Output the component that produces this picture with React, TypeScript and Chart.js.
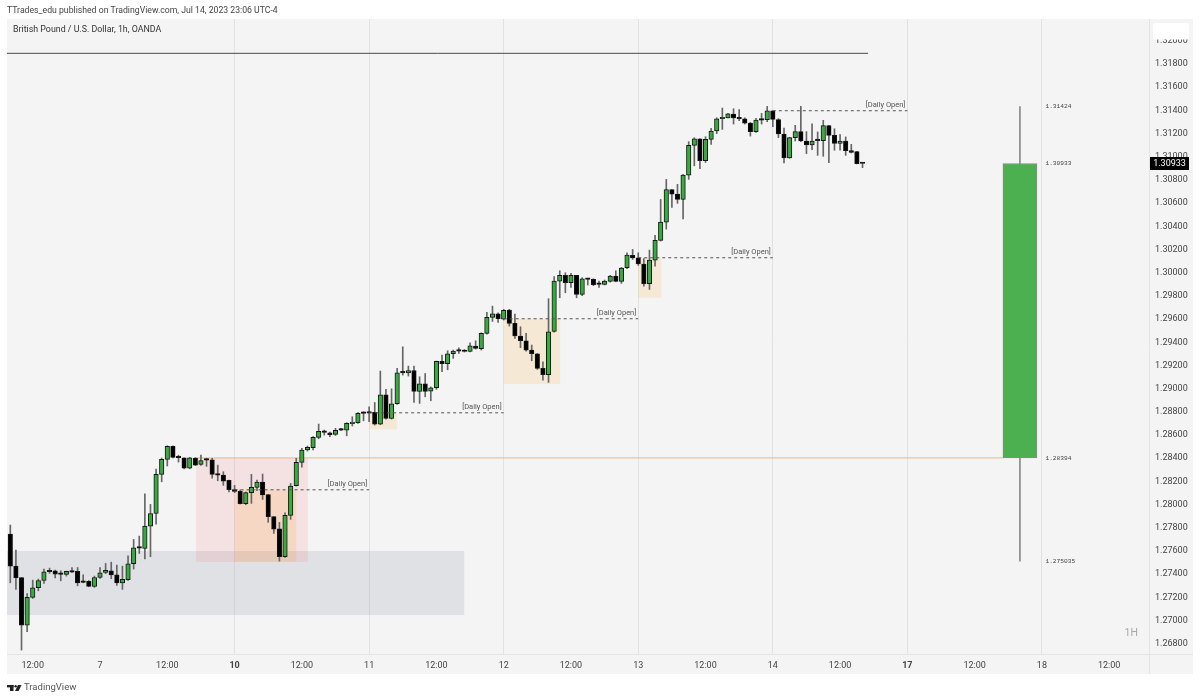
import React, { useEffect, useRef } from "react";
import { Chart, registerables } from "chart.js";

Chart.register(...registerables);

// GBPUSD 1h candles
const opens = [
  1.27737, 1.27461, 1.27363, 1.26952, 1.27191, 1.27274, 1.27337, 1.27421, 1.27421, 1.27395,
  1.27389, 1.27415, 1.27415, 1.27326, 1.27329, 1.27286, 1.27363, 1.27406, 1.27421, 1.27386,
  1.27317, 1.27343, 1.27481, 1.27622, 1.27613, 1.27806, 1.27915, 1.28252, 1.28381, 1.28493,
  1.28401, 1.28395, 1.28306, 1.2839, 1.28338, 1.28381, 1.28378, 1.28255, 1.28246, 1.282,
  1.2812, 1.28105, 1.27999, 1.28094, 1.2814, 1.28186, 1.28077, 1.27887, 1.27783, 1.27542,
  1.27898, 1.28154, 1.28355, 1.28462, 1.28482, 1.28571, 1.28623, 1.28611, 1.28597, 1.2864,
  1.28634, 1.28689, 1.28698, 1.28783, 1.28786, 1.28786, 1.28686, 1.28939, 1.28734, 1.28861,
  1.29134, 1.29128, 1.29148, 1.28967, 1.29033, 1.2897, 1.28999, 1.29226, 1.29206, 1.29292,
  1.29321, 1.29321, 1.29312, 1.29358, 1.29335, 1.29468, 1.29606, 1.29637, 1.29591, 1.29669,
  1.29554, 1.29445, 1.29404, 1.29324, 1.29292, 1.29166, 1.29111, 1.29485, 1.29919, 1.29968,
  1.29905, 1.29968, 1.29804, 1.29939, 1.29934, 1.29893, 1.2989, 1.29916, 1.29962, 1.29916,
  1.30034, 1.30141, 1.3012, 1.30066, 1.29896, 1.301, 1.3027, 1.30428, 1.30709, 1.30669,
  1.30623, 1.30833, 1.31089, 1.31146, 1.30957, 1.31141, 1.31213, 1.31319, 1.31327, 1.31359,
  1.31327, 1.31319, 1.31281, 1.31207, 1.31319, 1.3131, 1.31388, 1.31311, 1.31187, 1.3098,
  1.31156, 1.31208, 1.31127, 1.31093, 1.31136, 1.3113, 1.31259, 1.31176, 1.31107, 1.31127,
  1.31044, 1.31035, 1.30937,
];
const closes = [
  1.27461, 1.2736, 1.26952, 1.27191, 1.27274, 1.27337, 1.27412, 1.27412, 1.27392, 1.27389,
  1.27415, 1.27409, 1.27317, 1.2732, 1.27286, 1.27363, 1.27404, 1.27424, 1.27386, 1.27317,
  1.27346, 1.27481, 1.27619, 1.27616, 1.27806, 1.27915, 1.28252, 1.28381, 1.28493, 1.28398,
  1.28395, 1.28306, 1.28395, 1.28332, 1.2837, 1.28375, 1.28252, 1.28246, 1.28194, 1.2812,
  1.28105, 1.27999, 1.28094, 1.2814, 1.28186, 1.28074, 1.27887, 1.2778, 1.27542, 1.27898,
  1.28151, 1.28355, 1.28462, 1.28485, 1.28571, 1.28623, 1.28614, 1.28594, 1.28631, 1.28634,
  1.28692, 1.28698, 1.28778, 1.28778, 1.2878, 1.28686, 1.28939, 1.28734, 1.28861, 1.29128,
  1.29128, 1.29148, 1.28967, 1.29033, 1.28967, 1.28999, 1.29226, 1.29206, 1.29292, 1.29315,
  1.29315, 1.29312, 1.29361, 1.29338, 1.29468, 1.29606, 1.29637, 1.29594, 1.29666, 1.29554,
  1.29445, 1.29404, 1.29324, 1.29292, 1.29166, 1.29111, 1.29482, 1.29919, 1.29968, 1.29905,
  1.29968, 1.29804, 1.29939, 1.29934, 1.29888, 1.2989, 1.29919, 1.29962, 1.29916, 1.30031,
  1.30143, 1.30118, 1.30066, 1.29896, 1.301, 1.3027, 1.30428, 1.30709, 1.30669, 1.30623,
  1.30833, 1.31089, 1.31146, 1.30957, 1.31141, 1.31213, 1.31319, 1.3133, 1.31362, 1.31327,
  1.31319, 1.31281, 1.31207, 1.31307, 1.31307, 1.31388, 1.31313, 1.31187, 1.3098, 1.31156,
  1.31208, 1.31127, 1.31093, 1.31127, 1.3113, 1.31259, 1.31176, 1.31107, 1.31127, 1.31044,
  1.31029, 1.30932, 1.30933,
];
const highs = [
  1.27815, 1.27599, 1.27363, 1.27225, 1.2734, 1.27349, 1.27435, 1.27444, 1.27427, 1.27421,
  1.27418, 1.27449, 1.27449, 1.27386, 1.27337, 1.27375, 1.27449, 1.27484, 1.27495, 1.2747,
  1.27461, 1.2755, 1.27691, 1.2772, 1.28085, 1.27993, 1.28298, 1.28393, 1.28499, 1.28499,
  1.28418, 1.28395, 1.28398, 1.28398, 1.28419, 1.2839, 1.2839, 1.28332, 1.28275, 1.28203,
  1.28157, 1.28117, 1.281, 1.28252, 1.28203, 1.28255, 1.28079, 1.27887, 1.27838, 1.27921,
  1.28174, 1.2839, 1.28476, 1.28496, 1.28577, 1.28686, 1.28634, 1.28617, 1.28649, 1.28649,
  1.28698, 1.28749, 1.28784, 1.28792, 1.28835, 1.28872, 1.29143, 1.28985, 1.2899, 1.29166,
  1.29352, 1.29186, 1.29186, 1.29094, 1.29122, 1.29007, 1.29229, 1.29281, 1.29318, 1.29324,
  1.29344, 1.29329, 1.29387, 1.29404, 1.29473, 1.29649, 1.29703, 1.29646, 1.29675, 1.29675,
  1.29634, 1.29525, 1.29468, 1.29367, 1.29295, 1.29223, 1.29767, 1.29957, 1.30008, 1.29991,
  1.29985, 1.29968, 1.29948, 1.29942, 1.29939, 1.29919, 1.29928, 1.29968, 1.30008, 1.30037,
  1.30163, 1.30192, 1.30163, 1.30112, 1.30186, 1.30313, 1.30623, 1.30796, 1.30709, 1.30753,
  1.30839, 1.31121, 1.31155, 1.31146, 1.31164, 1.31236, 1.31327, 1.31411, 1.31365, 1.31405,
  1.31397, 1.31327, 1.31287, 1.31322, 1.31365, 1.31425, 1.31388, 1.3132, 1.31239, 1.31159,
  1.31262, 1.31426, 1.31208, 1.31276, 1.31205, 1.31305, 1.31262, 1.31233, 1.31182, 1.31162,
  1.31098, 1.31038, 1.3094,
];
const lows = [
  1.27317, 1.2726, 1.26737, 1.26895, 1.27182, 1.27248, 1.27312, 1.27398, 1.2736, 1.27334,
  1.27375, 1.27406, 1.27291, 1.27317, 1.27283, 1.27277, 1.27355, 1.27395, 1.27352, 1.27294,
  1.2726, 1.27337, 1.27435, 1.2757, 1.27524, 1.27542, 1.27823, 1.28188, 1.28324, 1.28393,
  1.28358, 1.283, 1.283, 1.28327, 1.2833, 1.28321, 1.2822, 1.28197, 1.28157, 1.281,
  1.28094, 1.27996, 1.2799, 1.28002, 1.28111, 1.28036, 1.27838, 1.27743, 1.27504, 1.27536,
  1.27864, 1.28151, 1.28315, 1.28453, 1.28462, 1.28559, 1.28591, 1.28577, 1.28588, 1.28628,
  1.28585, 1.28669, 1.28692, 1.28714, 1.28706, 1.28677, 1.2868, 1.28729, 1.28729, 1.28855,
  1.29108, 1.291, 1.28872, 1.28864, 1.28921, 1.28887, 1.28985, 1.29137, 1.29154, 1.29252,
  1.29295, 1.29307, 1.29307, 1.29332, 1.29324, 1.29462, 1.29571, 1.29562, 1.29583, 1.29531,
  1.29424, 1.29344, 1.29315, 1.29232, 1.29157, 1.29065, 1.29045, 1.29479, 1.29775, 1.29818,
  1.29864, 1.29775, 1.29793, 1.29885, 1.29879, 1.29864, 1.29885, 1.2991, 1.29913, 1.29899,
  1.30025, 1.30106, 1.30054, 1.29876, 1.29847, 1.30048, 1.30264, 1.30367, 1.30554, 1.30589,
  1.30456, 1.30796, 1.30913, 1.30888, 1.30942, 1.31097, 1.3119, 1.31227, 1.31325, 1.31273,
  1.31302, 1.31273, 1.31169, 1.31201, 1.31273, 1.31293, 1.3125, 1.31156, 1.30937, 1.30978,
  1.31127, 1.31121, 1.31018, 1.31052, 1.31003, 1.30995, 1.3094, 1.31047, 1.31047, 1.31003,
  1.31024, 1.30929, 1.30897,
];

// the long-bias candle drawn on the right
const bigCandleBar = 180.08;
const bigCandle = { open: 1.28394, close: 1.30933, high: 1.31424, low: 1.275035 };

const yTicks = [
  1.268, 1.27, 1.272, 1.274, 1.276, 1.278, 1.28, 1.282, 1.284, 1.286, 1.288, 1.29, 1.292, 1.294,
  1.296, 1.298, 1.3, 1.302, 1.304, 1.306, 1.308, 1.31, 1.312, 1.314, 1.316, 1.318, 1.32,
];
const xTickBars = [4, 16, 28, 40, 52, 64, 76, 88, 100, 112, 124, 136, 148, 160, 172, 184, 196];
const xTickLabels = [
  "12:00", "7", "12:00", "10", "12:00", "11", "12:00", "12", "12:00", "13", "12:00", "14", "12:00", "17", "12:00", "18", "12:00",
];
const dayLineBars = [40, 64, 88, 112, 136, 160, 184];
const boldLabels = ["10", "17"];

const X_MIN = -0.59;
const X_MAX = 203.1;
const Y_MIN = 1.26703;
const Y_MAX = 1.32179;

// [fromBar, toBar, topPrice, bottomPrice, colour]
const GREY = "rgba(117,123,150,0.15)";
const PINK = "rgba(242,54,69,0.1)";
const ORANGE = "rgba(255,152,0,0.13)";
const zones: [number, number, number, number, string][] = [
  [X_MIN, 80.96, 1.27591, 1.27039, GREY],
  [33.14, 53.07, 1.28394, 1.27498, PINK],
  [40, 50.98, 1.28119, 1.27498, ORANGE],
  [64, 68.95, 1.28783, 1.2864, ORANGE],
  [88, 98.09, 1.29594, 1.29031, ORANGE],
  [112, 116.1, 1.3012, 1.29775, ORANGE],
];

// [fromBar, toBar, price]
const dailyOpens: [number, number, number][] = [
  [40, 64, 1.28119],
  [64, 88, 1.28783],
  [88, 112, 1.29594],
  [112, 136, 1.3012],
  [136, 160, 1.31388],
];

const priceNotes: [number, string][] = [
  [1.31424, "1.31424"],
  [1.30933, "1.30933"],
  [1.28394, "1.28394"],
  [1.275035, "1.275035"],
];

const topLinePrice = 1.31883;
const topLineEnd = 153;
const lastPrice = 1.30933;

const SANS = "Roboto, sans-serif";

const overlays = {
  id: "overlays",
  beforeDraw(chart: any) {
    const { ctx, chartArea, scales } = chart;
    ctx.save();
    ctx.fillStyle = "#f4f4f4";
    ctx.fillRect(chartArea.left, chartArea.top, scales.y.right - chartArea.left, scales.x.bottom - chartArea.top);
    ctx.strokeStyle = "#e4e4e4";
    ctx.lineWidth = 1;
    ctx.beginPath();
    ctx.moveTo(chartArea.left, chartArea.bottom + 0.5);
    ctx.lineTo(scales.y.right, chartArea.bottom + 0.5);
    ctx.moveTo(chartArea.right + 0.5, chartArea.top);
    ctx.lineTo(chartArea.right + 0.5, scales.x.bottom);
    ctx.stroke();
    ctx.restore();
  },
  beforeDatasetsDraw(chart: any) {
    const { ctx, chartArea, scales } = chart;
    const { x, y } = scales;
    ctx.save();
    zones.forEach(([a, b, top, bottom, colour]) => {
      ctx.fillStyle = colour;
      ctx.fillRect(x.getPixelForValue(a), y.getPixelForValue(top), x.getPixelForValue(b) - x.getPixelForValue(a), y.getPixelForValue(bottom) - y.getPixelForValue(top));
    });

    // level line from the first zone to the big candle
    ctx.strokeStyle = "#e8b98c";
    ctx.lineWidth = 1;
    ctx.beginPath();
    ctx.moveTo(x.getPixelForValue(33.14), y.getPixelForValue(bigCandle.open));
    ctx.lineTo(x.getPixelForValue(177.1), y.getPixelForValue(bigCandle.open));
    ctx.stroke();

    ctx.strokeStyle = "#4a4a4a";
    ctx.beginPath();
    ctx.moveTo(chartArea.left, y.getPixelForValue(topLinePrice));
    ctx.lineTo(x.getPixelForValue(topLineEnd), y.getPixelForValue(topLinePrice));
    ctx.stroke();
    ctx.restore();
  },
  afterDatasetsDraw(chart: any) {
    const { ctx, chartArea, scales } = chart;
    const { x, y } = scales;
    ctx.save();
    ctx.textBaseline = "middle";

    dailyOpens.forEach(([a, b, price]) => {
      const py = y.getPixelForValue(price);
      ctx.strokeStyle = "#555";
      ctx.lineWidth = 1;
      ctx.setLineDash([3, 3]);
      ctx.beginPath();
      ctx.moveTo(x.getPixelForValue(a), py);
      ctx.lineTo(x.getPixelForValue(b), py);
      ctx.stroke();
      ctx.setLineDash([]);
      ctx.fillStyle = "#555";
      ctx.font = `7.5px ${SANS}`;
      ctx.textAlign = "right";
      ctx.fillText("[Daily Open]", x.getPixelForValue(b) - 2, py - 5.5);
    });

    ctx.fillStyle = "#444";
    ctx.font = "6.2px 'Liberation Mono', monospace";
    ctx.textAlign = "left";
    priceNotes.forEach(([price, text]) => {
      ctx.fillText(text, x.getPixelForValue(bigCandleBar) + 25.5, y.getPixelForValue(price));
    });

    ctx.fillStyle = "#a8a8a8";
    ctx.font = `10.5px ${SANS}`;
    ctx.textAlign = "right";
    ctx.fillText("1H", chartArea.right - 11, chartArea.bottom - 21);

    ctx.fillStyle = "#333";
    ctx.font = `8.85px ${SANS}`;
    ctx.textAlign = "left";
    ctx.fillText("British Pound / U.S. Dollar, 1h, OANDA", chartArea.left + 6, chartArea.top + 11);

    // header and footer outside the panel
    ctx.fillStyle = "#444";
    ctx.font = `8.7px ${SANS}`;
    ctx.fillText("TTrades_edu published on TradingView.com, Jul 14, 2023 23:06 UTC-4", chartArea.left, 11);
    ctx.fillStyle = "#555";
    ctx.font = `9.5px ${SANS}`;
    ctx.fillText("TradingView", 24, 688);

    ctx.fillStyle = "#222";
    ctx.fillRect(7, 685, 6.5, 2.4);
    ctx.fillRect(10, 685, 3.5, 6);
    ctx.beginPath();
    ctx.arc(15.6, 686.2, 1.2, 0, Math.PI * 2);
    ctx.fill();
    ctx.beginPath();
    ctx.moveTo(18, 685);
    ctx.lineTo(21.5, 685);
    ctx.lineTo(18.6, 691);
    ctx.lineTo(15, 691);
    ctx.closePath();
    ctx.fill();

    // white box on the price axis, over the top tick
    ctx.fillStyle = "#fff";
    ctx.beginPath();
    ctx.roundRect(chartArea.right + 4, chartArea.top + 4, 36, 16.5, 2);
    ctx.fill();

    // last price tag
    const tagY = y.getPixelForValue(lastPrice);
    ctx.fillStyle = "#000";
    ctx.fillRect(chartArea.right + 1, tagY - 6.5, 39, 13);
    ctx.fillStyle = "#fff";
    ctx.font = `9px ${SANS}`;
    ctx.textAlign = "center";
    ctx.fillText(lastPrice.toFixed(5), chartArea.right + 20.5, tagY + 0.5);
    ctx.restore();
  },
};

const App = () => {
  const canvasRef = useRef<HTMLCanvasElement | null>(null);
  const chartRef = useRef<Chart | null>(null);

  useEffect(() => {
    const ctx = canvasRef.current?.getContext("2d");
    if (!ctx) return;

    const bars = opens.map((_, i) => i);

    chartRef.current = new Chart(ctx, {
      type: "bar",
      plugins: [overlays],
      data: {
        datasets: [
          {
            data: [{ x: bigCandleBar, y: [bigCandle.open, bigCandle.close] }],
            backgroundColor: "#4caf50",
            borderColor: "#8a8a8a",
            borderWidth: 1,
            borderSkipped: false,
            barThickness: 34,
            grouped: false,
          },
          {
            data: bars.map((i) => ({ x: i, y: [opens[i], closes[i]] })),
            backgroundColor: bars.map((i) => (closes[i] >= opens[i] ? "#38ab3f" : "#000000")),
            borderColor: "#161616",
            borderWidth: 1,
            borderSkipped: false,
            barThickness: 4.5,
            minBarLength: 1.5,
            grouped: false,
          },
          {
            data: bars.map((i) => ({ x: i, y: [lows[i], highs[i]] })),
            backgroundColor: "#666666",
            borderWidth: 0,
            barThickness: 1,
            grouped: false,
          },
          {
            data: [{ x: bigCandleBar, y: [bigCandle.low, bigCandle.high] }],
            backgroundColor: "#8a8a8a",
            borderWidth: 0,
            barThickness: 1,
            grouped: false,
          },
        ],
      } as any,
      options: {
        responsive: false,
        animation: false,
        events: [],
        layout: { padding: { left: 7, top: 19, right: 7, bottom: 26 } },
        plugins: { legend: { display: false }, tooltip: { enabled: false } },
        scales: {
          x: {
            type: "linear",
            offset: false,
            min: X_MIN,
            max: X_MAX,
            afterBuildTicks: (axis: any) => {
              axis.ticks = xTickBars.map((value) => ({ value }));
            },
            afterFit: (axis: any) => {
              axis.height = 20;
            },
            grid: {
              offset: false,
              drawTicks: false,
              color: (c: any) => (dayLineBars.includes(c.tick?.value) ? "#e2e2e2" : "rgba(0,0,0,0)"),
            },
            border: { display: false },
            ticks: {
              autoSkip: false,
              maxRotation: 0,
              padding: 6,
              color: "#444",
              font: (c: any) => {
                const label = xTickLabels[xTickBars.indexOf(c.tick?.value)];
                return { family: SANS, size: 9, weight: boldLabels.includes(label) ? "bold" : "normal" };
              },
              callback: (value: any) => xTickLabels[xTickBars.indexOf(value)],
            },
          },
          y: {
            position: "right",
            min: Y_MIN,
            max: Y_MAX,
            afterBuildTicks: (axis: any) => {
              axis.ticks = yTicks.map((value) => ({ value }));
            },
            afterFit: (axis: any) => {
              axis.width = 44;
            },
            grid: { display: false, drawTicks: false },
            border: { display: false },
            ticks: {
              autoSkip: false,
              padding: 6,
              labelOffset: 1,
              color: "#444",
              font: { family: SANS, size: 9 },
              callback: (value: any) => Number(value).toFixed(5),
            },
          },
        },
      } as any,
    });

    return () => {
      chartRef.current?.destroy();
    };
  }, []);

  return (
    <div style={{ position: "absolute", left: 0, top: 0, width: 1200, height: 700, background: "#fff" }}>
      <canvas ref={canvasRef} width={1200} height={700} style={{ display: "block" }} />
    </div>
  );
};

export default App;
